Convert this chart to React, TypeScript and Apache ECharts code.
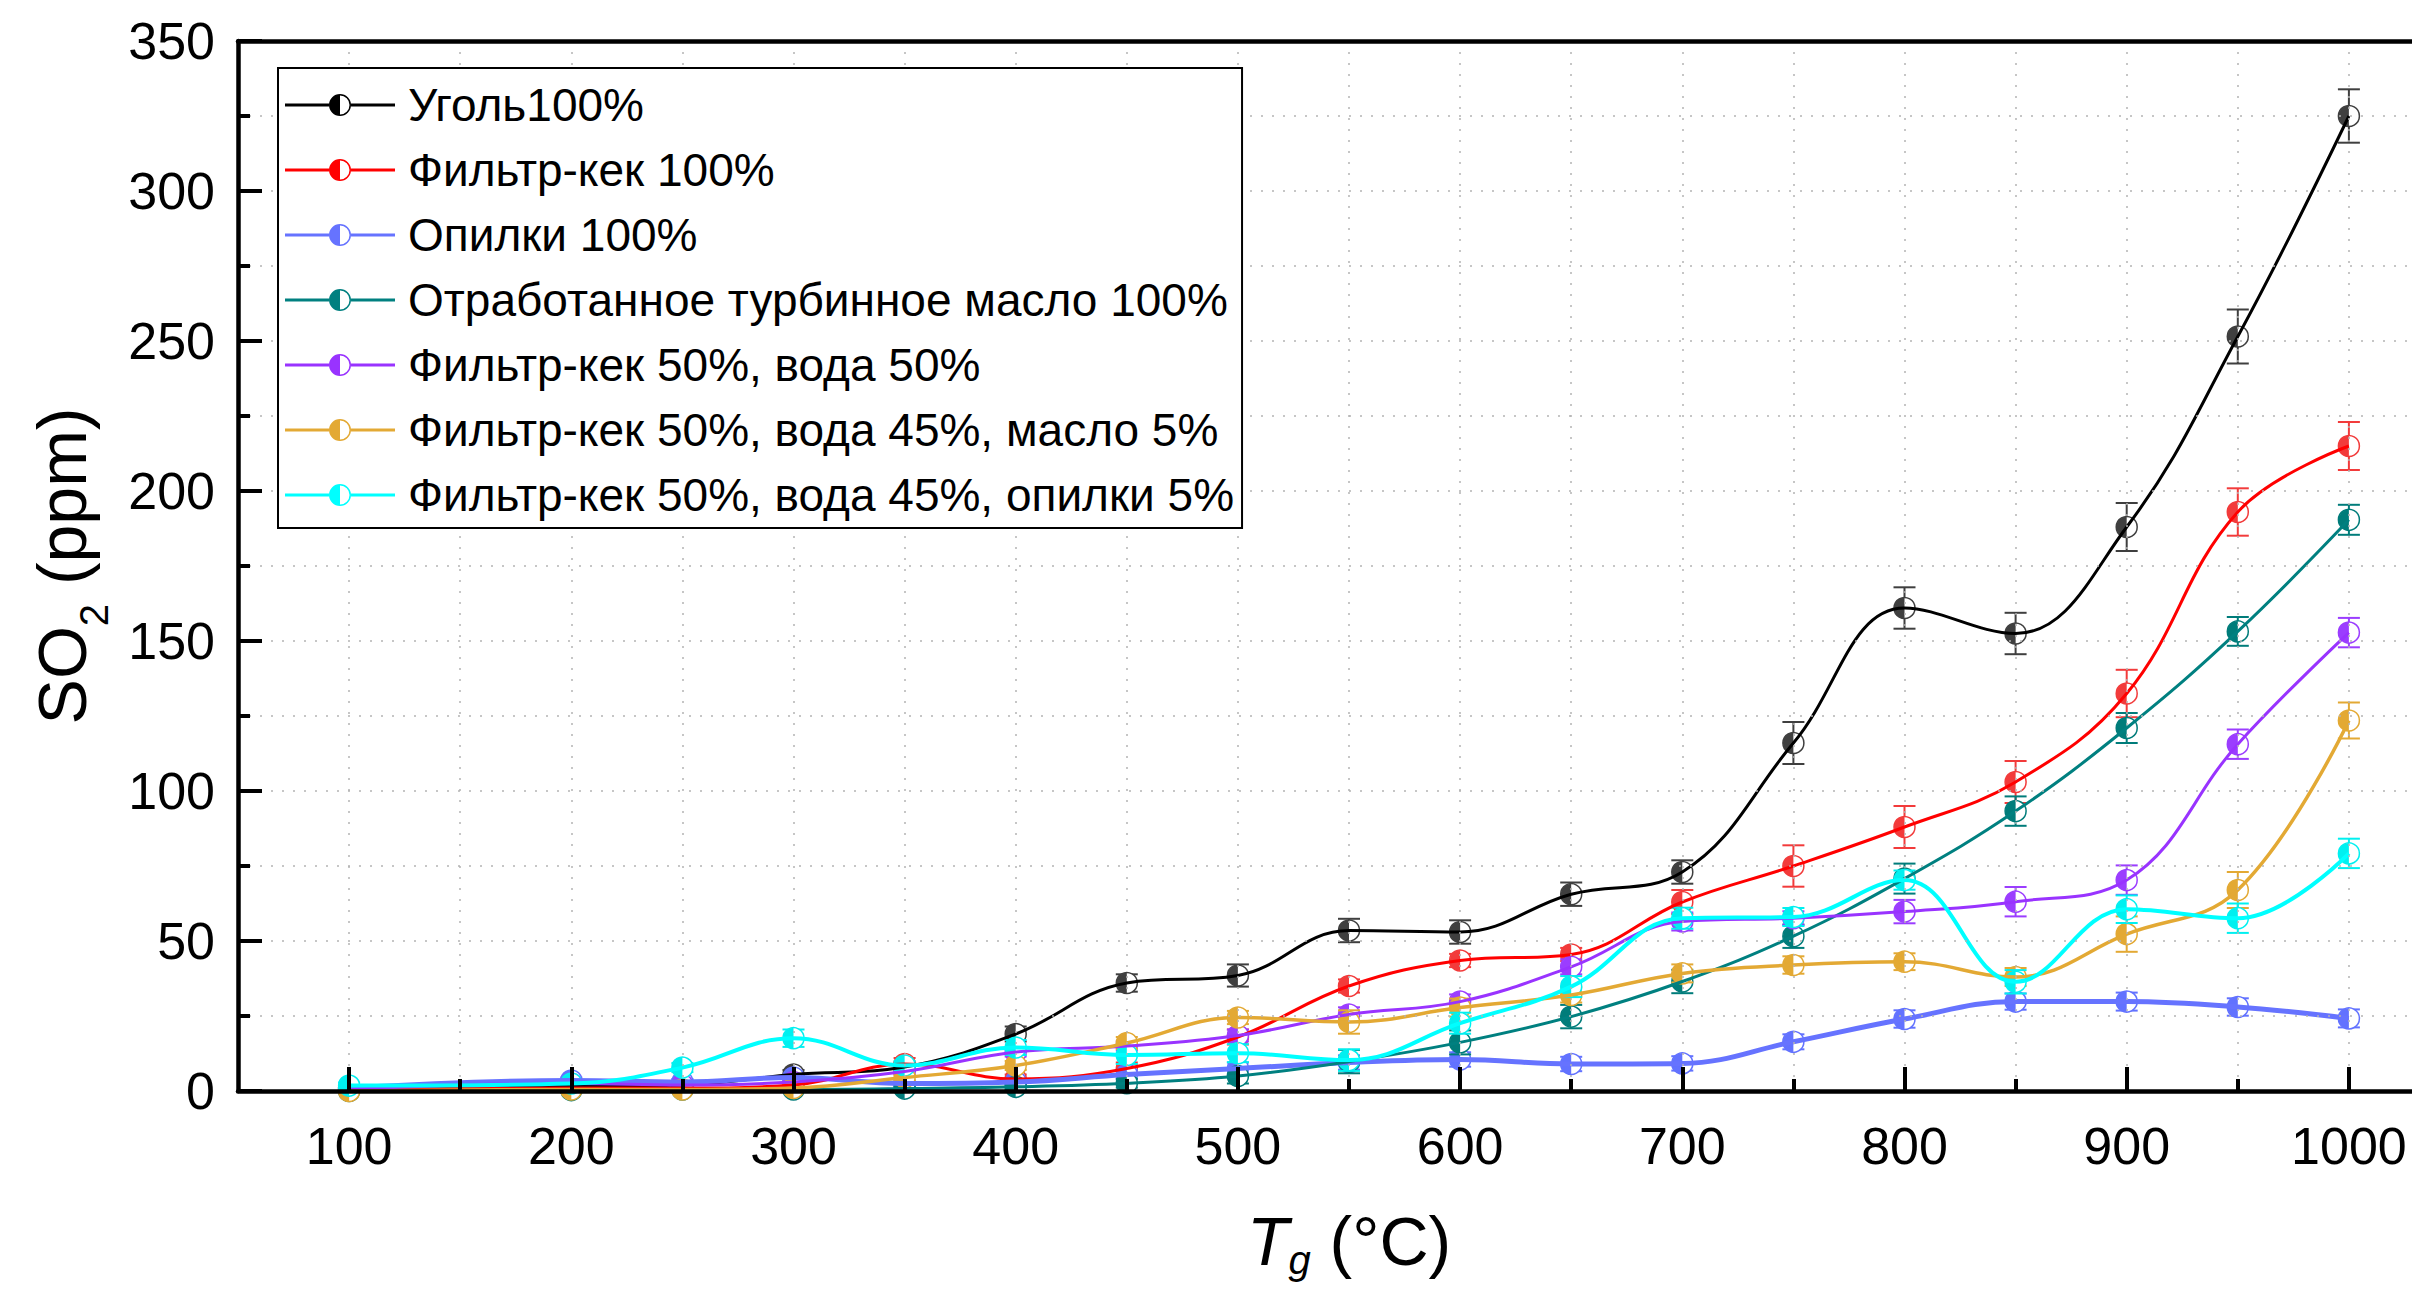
import React, { useEffect, useRef } from 'react';
import * as echarts from 'echarts';

const FONT = '"Liberation Sans", Arial, Helvetica, sans-serif';

// Temperatures (°C)
const temperatures = [100, 200, 250, 300, 350, 400, 450, 500, 550, 600, 650, 700, 750, 800, 850, 900, 950, 1000];

const seriesNames = [
  'Уголь100%',
  'Фильтр-кек 100%',
  'Опилки 100%',
  'Отработанное турбинное масло 100%',
  'Фильтр-кек 50%, вода 50%',
  'Фильтр-кек 50%, вода 45%, масло 5%',
  'Фильтр-кек 50%, вода 45%, опилки 5%',
];

// SO2 (ppm) values and error bars
const coal = [1, 1.5, 2, 5.5, 8, 19, 36, 38.5, 53.5, 53, 65.6, 73, 116, 161, 152.5, 188, 251.5, 325];
const coalErr = [1, 1, 1, 1.5, 1.5, 2.5, 2.9, 3.7, 3.9, 3.9, 3.9, 3.9, 7, 6.9, 6.9, 8, 9, 8.9];

const filterCake = [0.5, 1, 1, 2, 9, 4, 7.5, 18, 35, 43.5, 45.5, 63, 75, 88, 103, 132.5, 193, 215];
const filterCakeErr = [0.8, 0.8, 0.8, 1, 2, 1.5, 2, 2.5, 2.2, 2.2, 2.2, 4, 6.9, 7, 7, 7.9, 7.9, 8];

const sawdust = [1, 3.5, 3, 4.5, 2.5, 3, 5.5, 7.5, 9.5, 10.5, 9, 9.2, 16.4, 24, 29.8, 29.8, 28, 24.2];
const sawdustErr = [0.8, 1, 1, 1, 1, 1.2, 1.5, 2, 2.4, 2.4, 2.4, 2.4, 2.5, 2.9, 2.7, 3, 2.9, 3];

const turbineOil = [0, 0.3, 0.5, 0.5, 0.8, 1.4, 2.6, 5, 9.8, 16.2, 24.8, 36.5, 51.6, 70.8, 93.3, 121, 153.2, 190.4];
const turbineOilErr = [0.5, 0.8, 0.8, 0.8, 0.8, 1, 1.5, 2.5, 3.9, 4, 3.9, 3.9, 3.9, 5, 4.9, 5, 4.8, 5];

const cakeWater = [0.5, 2.5, 2, 3, 6.5, 13, 15, 18.5, 25.5, 29.8, 41.4, 56.5, 57.6, 59.8, 63.1, 70.3, 115.6, 152.8];
const cakeWaterErr = [0.5, 1, 1, 1, 1, 1.5, 1.5, 2, 2.4, 2.4, 2.5, 3, 2.3, 3.9, 4.9, 4.9, 4.9, 4.9];

const cakeWaterOil = [0, 0.5, 0.5, 1, 4.5, 8.5, 16, 24.5, 23, 27.8, 32, 39.2, 42, 43.1, 38, 52.3, 67, 123.5];
const cakeWaterOilErr = [0.5, 0.5, 0.5, 0.5, 1, 1.5, 2, 2.2, 3.9, 3, 2.5, 3, 2.9, 2.8, 3, 5.9, 6, 6];

const cakeWaterSawdust = [1.8, 2.5, 7.8, 17.6, 8.5, 14.5, 12, 12.6, 10.3, 22.6, 34.8, 57.6, 58, 70.3, 36.4, 60.6, 57.6, 79.2];
const cakeWaterSawdustErr = [1, 1, 1.5, 2.9, 1.5, 2.5, 3, 3, 3.6, 3.5, 3.5, 3.5, 3, 3.2, 3.9, 4.6, 4.9, 4.9];

const seriesValues = [coal, filterCake, sawdust, turbineOil, cakeWater, cakeWaterOil, cakeWaterSawdust];
const seriesErrors = [coalErr, filterCakeErr, sawdustErr, turbineOilErr, cakeWaterErr, cakeWaterOilErr, cakeWaterSawdustErr];

const lineColors = ['#000000', '#FF0000', '#6673FF', '#008080', '#9933FF', '#E3A934', '#00FFFF'];
const markerColors = ['#3F3F3F', '#F23B3B', '#6272FF', '#007C7A', '#9B3DFF', '#E3A934', '#00F0F0'];
const lineWidths = [3, 3, 5, 3, 3, 3.5, 4];

// Axis tick labels
const xMajorTicks = [100, 200, 300, 400, 500, 600, 700, 800, 900, 1000];
const xMinorTicks = [150, 250, 350, 450, 550, 650, 750, 850, 950];

const LEGEND_ICON =
  'path://M0,9.5 L44,9.5 L44,12.5 L0,12.5 Z ' +
  'M66,9.5 L110,9.5 L110,12.5 L66,12.5 Z ' +
  'M55,0 A11,11 0 0 0 55,22 Z ' +
  'M55,0 A11,11 0 0 1 55,22 L55,20.5 A9.5,9.5 0 0 0 55,1.5 Z';

export default function App() {
  const ref = useRef<HTMLDivElement>(null);

  useEffect(() => {
    if (!ref.current) return;
    const chart = echarts.init(ref.current, null, { renderer: 'svg' });

    const dotted = { color: '#b4b4b4', width: 1.5, type: [2, 9] as any };

    const series: any[] = [];
    seriesNames.forEach((name, i) => {
      series.push({
        name,
        type: 'line',
        data: temperatures.map((t, j) => [t, seriesValues[i][j]]),
        smooth: 0.4,
        showSymbol: false,
        symbol: 'none',
        lineStyle: { color: lineColors[i], width: lineWidths[i] },
        itemStyle: { color: lineColors[i] },
        z: 3,
      });
      const mc = markerColors[i];
      series.push({
        name: name + ' (points)',
        type: 'custom',
        data: temperatures.map((t, j) => [t, seriesValues[i][j], seriesErrors[i][j]]),
        encode: { x: 0, y: 1 },
        z: 3,
        renderItem: (params: any, api: any) => {
          const x = api.value(0);
          const y = api.value(1);
          const e = api.value(2);
          const p = api.coord([x, y]);
          const top = api.coord([x, y + e]);
          const bot = api.coord([x, y - e]);
          const capW = 11;
          const st = { stroke: mc, lineWidth: 2 };
          return {
            type: 'group',
            children: [
              { type: 'line', shape: { x1: p[0], y1: top[1], x2: p[0], y2: bot[1] }, style: st },
              { type: 'line', shape: { x1: p[0] - capW, y1: top[1], x2: p[0] + capW, y2: top[1] }, style: st },
              { type: 'line', shape: { x1: p[0] - capW, y1: bot[1], x2: p[0] + capW, y2: bot[1] }, style: st },
              { type: 'circle', shape: { cx: p[0], cy: p[1], r: 10.5 }, style: { fill: '#ffffff', stroke: mc, lineWidth: 1.5 } },
              {
                type: 'sector',
                shape: { cx: p[0], cy: p[1], r: 10.5, r0: 0, startAngle: Math.PI / 2, endAngle: Math.PI * 1.5, clockwise: true },
                style: { fill: mc },
              },
            ],
          };
        },
      });
    });

    const option: any = {
      animation: false,
      backgroundColor: '#ffffff',
      grid: {
        left: 238,
        top: 41,
        right: 60,
        bottom: 206,
        show: false,
      },
      legend: {
        orient: 'vertical',
        left: 278,
        top: 68,
        padding: [14, 8, 10, 7],
        itemGap: 19,
        itemWidth: 110,
        itemHeight: 22,
        backgroundColor: '#ffffff',
        borderColor: '#000',
        borderWidth: 2,
        selectedMode: false,
        textStyle: { fontSize: 46, fontFamily: FONT, color: '#000', padding: [0, 0, 0, 8] },
        data: seriesNames.map((n, i) => ({
          name: n,
          icon: LEGEND_ICON,
          itemStyle: { color: lineColors[i], borderWidth: 0 },
        })),
        z: 10,
      },
      xAxis: [
        {
          type: 'value',
          min: 50,
          max: 1050,
          interval: 50,
          position: 'bottom',
          z: 5,
          axisLine: { show: true, onZero: false, lineStyle: { color: '#000', width: 4.5 } },
          axisTick: { show: true, inside: true, length: 24, lineStyle: { color: '#000', width: 4 }, customValues: xMajorTicks },
          axisLabel: {
            show: true,
            customValues: xMajorTicks,
            fontSize: 52,
            fontFamily: FONT,
            color: '#000',
            margin: 29,
            formatter: (v: number) => String(v),
          },
          splitLine: { show: true, lineStyle: dotted },
          name: '{it|T}{sub|g} (°C)',
          nameLocation: 'middle',
          nameGap: 116,
          nameTextStyle: {
            fontSize: 68,
            fontFamily: FONT,
            color: '#000',
            lineHeight: 68,
            rich: {
              it: { fontSize: 68, fontFamily: FONT, fontStyle: 'italic', color: '#000', lineHeight: 68 },
              sub: { fontSize: 40, fontFamily: FONT, fontStyle: 'italic', color: '#000', lineHeight: 68, verticalAlign: 'top', padding: [33, 0, 0, 0] },
            },
          },
        },
        {
          type: 'value',
          min: 50,
          max: 1050,
          interval: 50,
          position: 'bottom',
          z: 5,
          axisLine: { show: false, onZero: false },
          axisTick: { show: true, inside: true, length: 12, lineStyle: { color: '#000', width: 4 }, customValues: xMinorTicks },
          axisLabel: { show: false },
          splitLine: { show: true, lineStyle: dotted },
        },
        {
          type: 'value',
          min: 50,
          max: 1050,
          interval: 50,
          position: 'top',
          z: 5,
          axisLine: { show: true, onZero: false, lineStyle: { color: '#000', width: 4.5 } },
          axisTick: { show: false },
          axisLabel: { show: false },
          splitLine: { show: false },
        },
      ],
      yAxis: {
        type: 'value',
        min: 0,
        max: 350,
        interval: 50,
        z: 5,
        axisLine: { show: true, onZero: false, lineStyle: { color: '#000', width: 4.5 } },
        axisTick: { show: true, inside: true, length: 24, lineStyle: { color: '#000', width: 4 } },
        minorTick: { show: true, splitNumber: 2, length: 12, lineStyle: { color: '#000', width: 4 } },
        axisLabel: { fontSize: 52, fontFamily: FONT, color: '#000', margin: 23 },
        splitLine: { show: true, lineStyle: dotted },
        minorSplitLine: { show: true, lineStyle: dotted },
        name: 'SO{sub|2} (ppm)',
        nameLocation: 'middle',
        nameGap: 142,
        nameTextStyle: {
          fontSize: 68,
          fontFamily: FONT,
          color: '#000',
          lineHeight: 68,
          rich: {
            sub: { fontSize: 40, fontFamily: FONT, color: '#000', lineHeight: 68, verticalAlign: 'top', padding: [46, 0, 0, 0] },
          },
        },
      },
      series,
    };

    chart.setOption(option);
    return () => chart.dispose();
  }, []);

  return (
    <div
      style={{
        position: 'fixed',
        left: 0,
        top: 0,
        width: 2412,
        height: 1297,
        overflow: 'hidden',
        background: '#ffffff',
      }}
    >
      <div ref={ref} style={{ width: 2520, height: 1297 }} />
    </div>
  );
}
